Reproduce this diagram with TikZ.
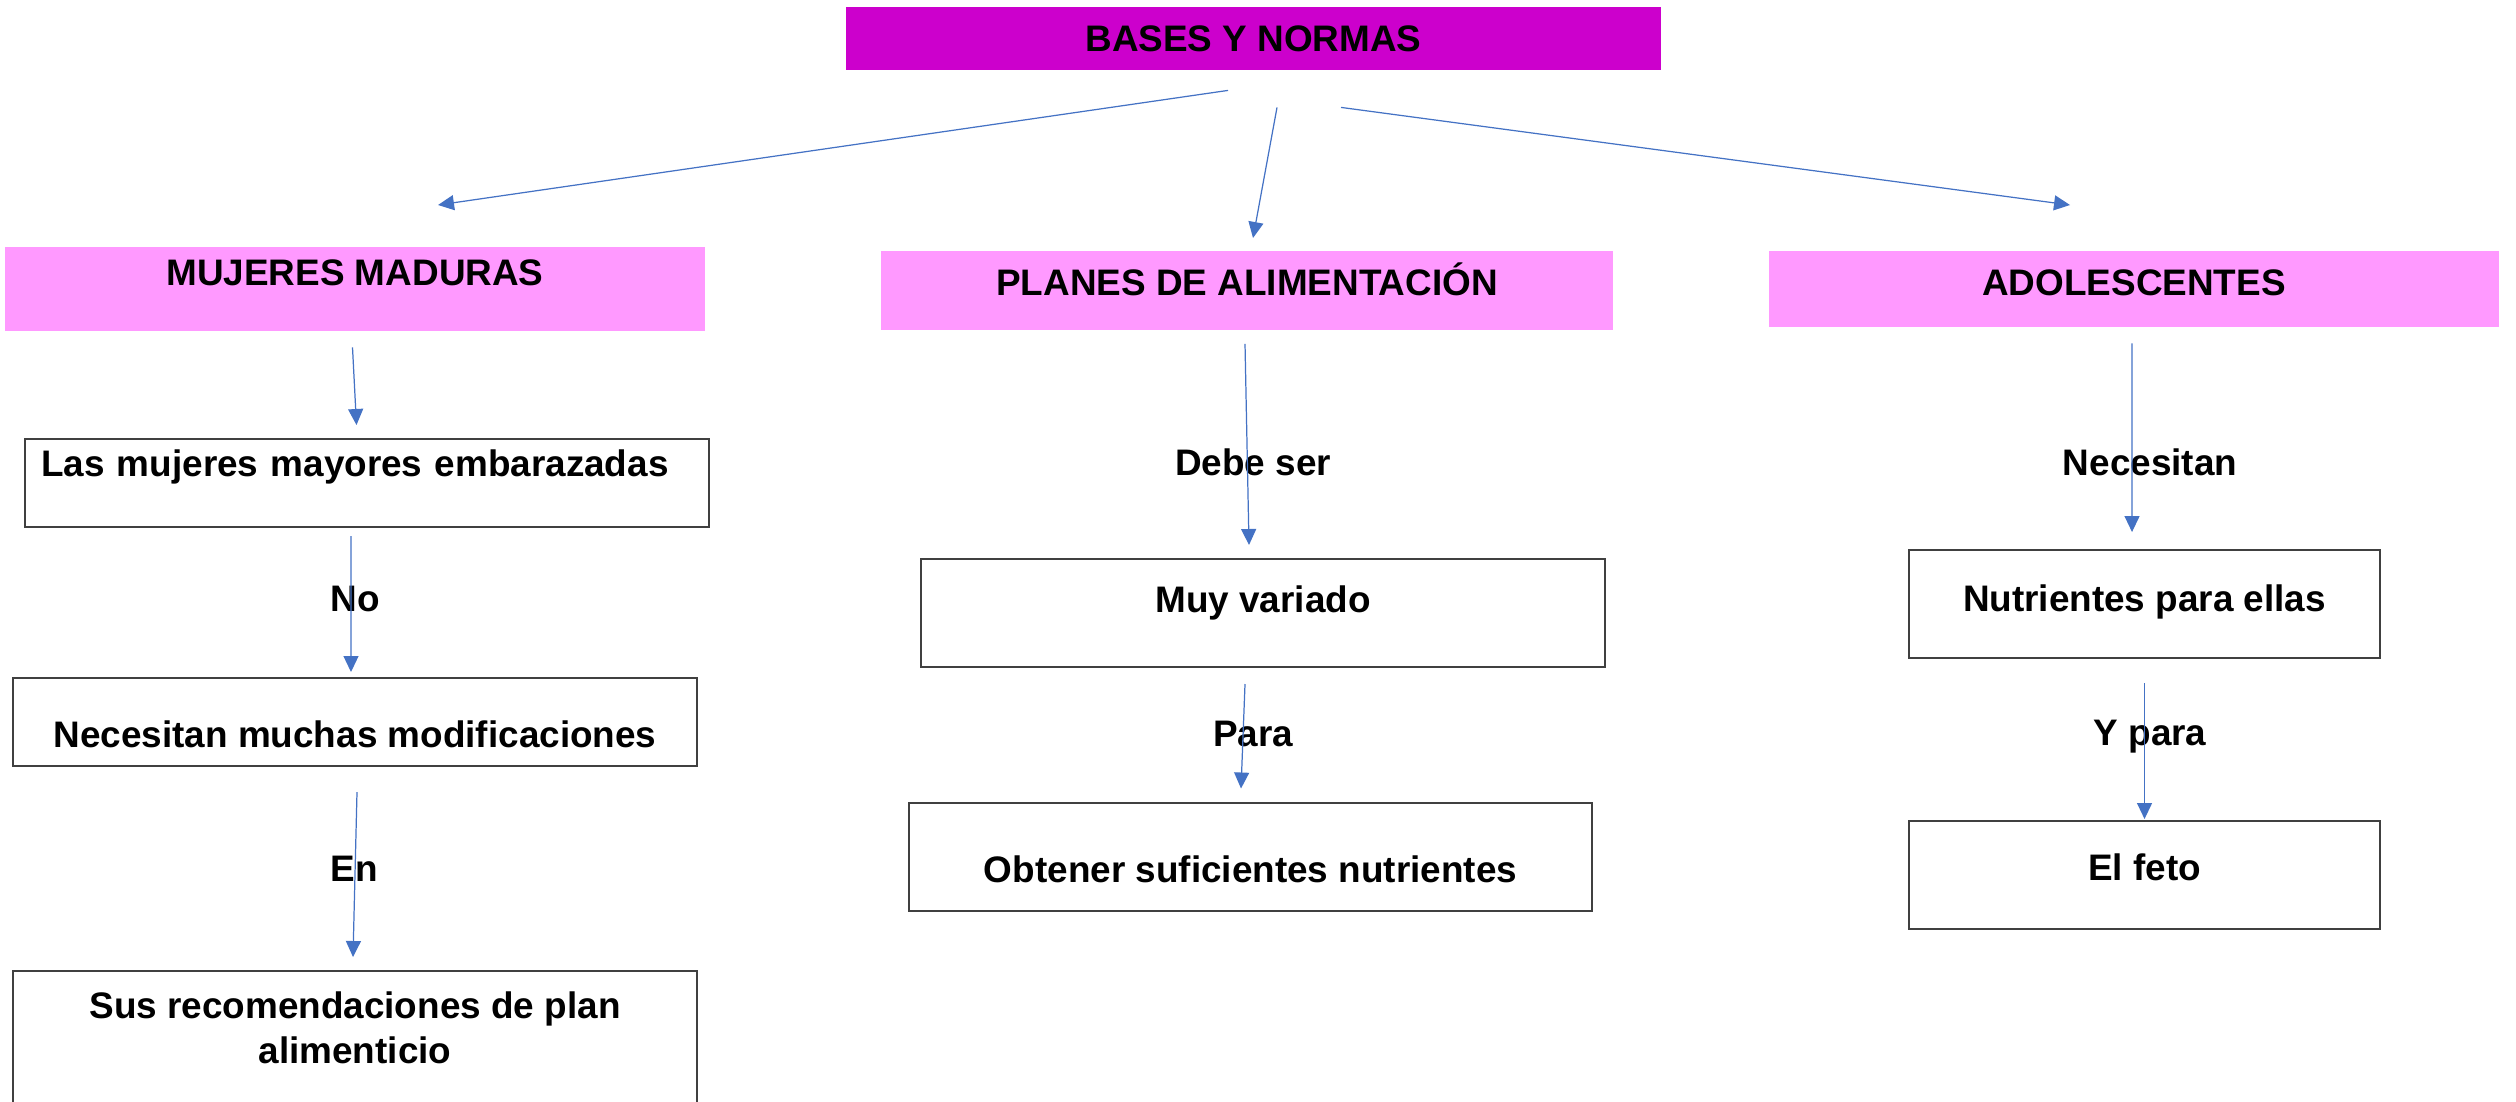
\documentclass[tikz,border=0pt]{standalone}
\usepackage{fontspec}
\setmainfont{Liberation Sans}
\usetikzlibrary{arrows.meta,positioning}
\definecolor{topmagenta}{HTML}{CC00CC}
\definecolor{catpink}{HTML}{FF99FF}
\definecolor{boxgray}{HTML}{404040}
\definecolor{linkblue}{HTML}{4472C4}
\tikzset{
  topbox/.style={fill=topmagenta, anchor=north},
  catbox/.style={fill=catpink, anchor=north},
  txtbox/.style={draw=boxgray, line width=0.2mm, anchor=north},
  lbl/.style={text height=2.65mm, text depth=0mm},
  conn/.style={->, draw=linkblue, line width=0.35pt},
}
\begin{document}
\begin{tikzpicture}[x=0.1mm,y=-0.1mm,>={Triangle[length=1.6mm,width=1.5mm]},
  every node/.style={font=\fontsize{10.5}{12.8}\selectfont\bfseries, inner sep=0pt}]
\useasboundingbox (0,0) rectangle (2516,1101);

% title and the three groups
\node[topbox, minimum width=81.5mm, text height=4.5mm, text depth=1.8mm] (top) at (1253.5,6) {BASES Y NORMAS};
\node[catbox, minimum width=70mm, text height=3.9mm, text depth=4.5mm] (mm) at (355,246) {MUJERES MADURAS};
\node[catbox, minimum width=73.2mm, text height=4.5mm, text depth=3.4mm] (plan) at (1247,250) {PLANES DE ALIMENTACIÓN};
\node[catbox, minimum width=73mm, text height=4.5mm, text depth=3.1mm] (adol) at (2134,250) {ADOLESCENTES};

% left column
\node[txtbox, minimum width=68.4mm, text width=65.2mm, align=left, inner xsep=1.6mm,
  text height=3.7mm, text depth=5.1mm] (las) at (367,438) {Las mujeres mayores embarazadas};
\node[txtbox, minimum width=68.4mm, text height=6.95mm, text depth=1.85mm] (nec) at (355,677) {Necesitan muchas modificaciones};
\node[txtbox, minimum width=68.4mm, align=center, text height=9.2mm, text depth=6.8mm] (sus) at (355,970)
  {Sus recomendaciones de plan\\alimenticio};
\node[lbl] (no) at (355,598) {No};
\node[lbl] (en) at (354,868) {En};

% middle column
\node[txtbox, minimum width=68.4mm, text height=5.3mm, text depth=5.5mm] (muy) at (1263,558) {Muy variado};
\node[txtbox, minimum width=68.3mm, text height=7.9mm, text depth=2.9mm] (obt) at (1250.5,802) {Obtener suficientes nutrientes};
\node[lbl] (debe) at (1253,462) {Debe ser};
\node[lbl] (para) at (1253,733) {Para};

% right column
\node[txtbox, minimum width=47.1mm, text height=6.1mm, text depth=4.7mm] (nut) at (2144.5,549) {Nutrientes para ellas};
\node[txtbox, minimum width=47.1mm, text height=5.9mm, text depth=4.9mm] (feto) at (2144.5,820) {El feto};
\node[lbl] (necs) at (2150,462) {Necesitan};
\node[lbl] (ypara) at (2150,732) {Y para};

% connectors
\draw[conn] ([xshift=-2.55mm,yshift=-2mm]top.south) -- ([xshift=8.3mm,yshift=4.1mm]mm.north);
\draw[conn] ([xshift=2.35mm,yshift=-3.7mm]top.south) -- ([xshift=0.6mm,yshift=1.2mm]plan.north);
\draw[conn] ([xshift=8.75mm,yshift=-3.7mm]top.south) -- ([xshift=-6.4mm,yshift=4.5mm]adol.north);

\draw[conn] ([xshift=-0.25mm,yshift=-1.6mm]mm.south) -- ([xshift=-1.05mm,yshift=1.3mm]las.north);
\draw[conn] ([xshift=-1.6mm,yshift=-0.8mm]las.south) -- ([xshift=-0.4mm,yshift=0.5mm]nec.north);
\draw[conn] ([xshift=0.2mm,yshift=-2.5mm]nec.south) -- ([xshift=-0.2mm,yshift=1.3mm]sus.north);

\draw[conn] ([xshift=-0.2mm,yshift=-1.35mm]plan.south) -- ([xshift=-1.4mm,yshift=1.3mm]muy.north);
\draw[conn] ([xshift=-1.8mm,yshift=-1.6mm]muy.south) -- ([xshift=-0.95mm,yshift=1.35mm]obt.north);

\draw[conn] ([xshift=-0.2mm,yshift=-1.6mm]adol.south) -- ([xshift=-1.25mm,yshift=1.7mm]nut.north);
\draw[conn] ([yshift=-2.4mm]nut.south) -- ([yshift=0.1mm]feto.north);
\end{tikzpicture}
\end{document}
